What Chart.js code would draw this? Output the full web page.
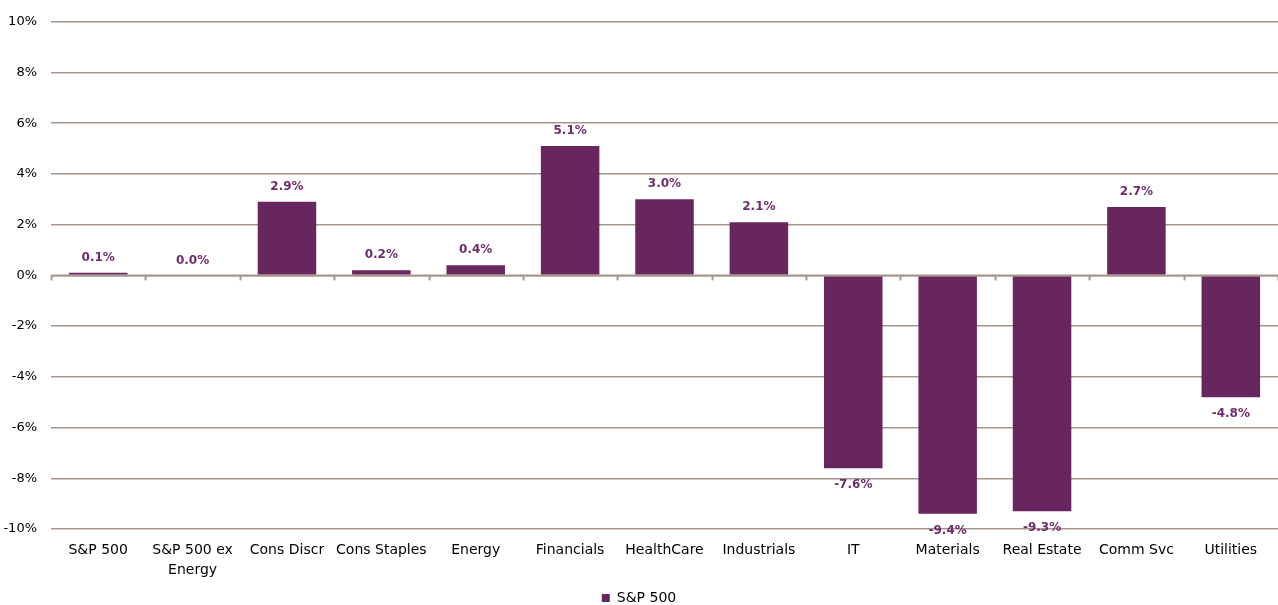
<!DOCTYPE html>
<html>
<head>
<meta charset="utf-8">
<script src="https://cdn.jsdelivr.net/npm/chart.js@4/dist/chart.umd.min.js"></script>
<style>
html,body{margin:0;padding:0;background:#fff;}
#wrap{width:1278px;height:605px;position:relative;}
</style>
</head>
<body>
<div id="wrap"><canvas id="c"></canvas></div>
<script>
const categories = ["S&P 500", ["S&P 500 ex", "Energy"], "Cons Discr", "Cons Staples", "Energy", "Financials", "HealthCare", "Industrials", "IT", "Materials", "Real Estate", "Comm Svc", "Utilities"];
const seriesName = "S&P 500";
const values = [0.1, 0.0, 2.9, 0.2, 0.4, 5.1, 3.0, 2.1, -7.6, -9.4, -9.3, 2.7, -4.8];
const yTicks = [-10, -8, -6, -4, -2, 0, 2, 4, 6, 8, 10];

const BAR = '#68265F';
const LABEL = '#6E2C6B';
const GRID = '#A6968C';
const FONT = "'DejaVu Sans', Verdana, sans-serif";

const labelPlugin = {
  id: 'valueLabels',
  afterDatasetsDraw(chart) {
    const ctx = chart.ctx;
    const meta = chart.getDatasetMeta(0);
    ctx.save();
    ctx.font = "bold 12px " + FONT;
    ctx.fillStyle = LABEL;
    ctx.textAlign = 'center';
    ctx.textBaseline = 'middle';
    meta.data.forEach((el, i) => {
      const v = chart.data.datasets[0].data[i];
      const y = v >= 0 ? el.y - 15 : el.y + 17;
      ctx.fillText(v.toFixed(1) + '%', el.x, y);
    });
    ctx.restore();
  },
  afterDraw(chart) {
    const ctx = chart.ctx;
    const ys = chart.scales.y;
    const y0 = ys.getPixelForValue(0);
    const n = chart.data.labels.length;
    const w = (chart.chartArea.right - chart.chartArea.left) / n;
    ctx.save();
    ctx.strokeStyle = GRID;
    ctx.lineWidth = 2;
    ctx.beginPath();
    ctx.moveTo(chart.chartArea.left, y0);
    ctx.lineTo(chart.chartArea.right, y0);
    ctx.stroke();
    for (let i = 0; i <= n; i++) {
      const x = Math.round(chart.chartArea.left + i * w) + 0.5;
      ctx.beginPath();
      ctx.moveTo(x, y0);
      ctx.lineTo(x, y0 + 5);
      ctx.stroke();
    }
    ctx.restore();
  }
};

new Chart(document.getElementById('c'), {
  type: 'bar',
  data: {
    labels: categories,
    datasets: [{
      label: seriesName,
      data: values,
      backgroundColor: BAR,
      borderWidth: 0,
      categoryPercentage: 1,
      barPercentage: 0.62
    }]
  },
  options: {
    responsive: true,
    maintainAspectRatio: false,
    animation: false,
    layout: { padding: { top: 21, right: 0, left: 0, bottom: -10 } },
    plugins: {
      tooltip: { enabled: false },
      legend: {
        position: 'bottom',
        labels: {
          boxWidth: 8, boxHeight: 8, padding: 2,
          color: '#000',
          font: { family: FONT, size: 14 }
        }
      }
    },
    scales: {
      x: {
        grid: { display: false, drawTicks: false },
        border: { display: false },
        ticks: {
          color: '#000', padding: 12, maxRotation: 0, autoSkip: false,
          font: { family: FONT, size: 14, lineHeight: 1.4 }
        },
        afterFit(axis) { axis.height = 60; }
      },
      y: {
        min: -10, max: 10,
        afterBuildTicks(axis) { axis.ticks = yTicks.map(v => ({ value: v })); },
        grid: { color: GRID, lineWidth: 1.5, drawTicks: false },
        border: { display: false },
        ticks: {
          color: '#000', padding: 14,
          font: { family: FONT, size: 13 },
          callback: v => v + '%'
        },
        afterFit(axis) { axis.width = 51; }
      }
    }
  },
  plugins: [labelPlugin]
});
</script>
</body>
</html>
